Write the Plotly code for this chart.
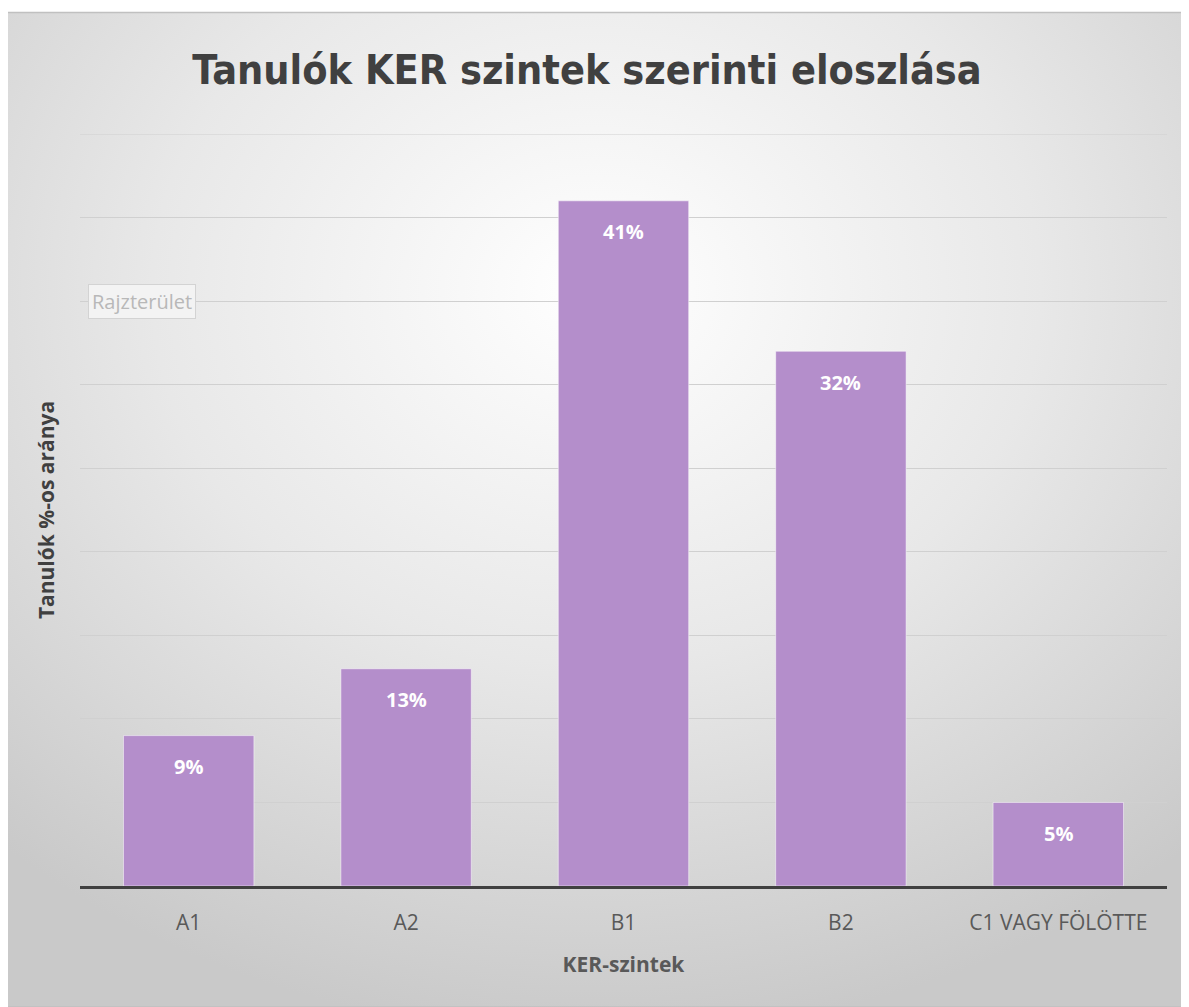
import plotly.graph_objects as go
import urllib.parse

categories = ["A1", "A2", "B1", "B2", "C1 VAGY FÖLÖTTE"]
values = [9, 13, 41, 32, 5]

title_text = "Tanulók KER szintek szerinti eloszlása"
x_title = "KER-szintek"
y_title = "Tanulók %-os aránya"

# page body has an 8px margin; coordinates below are reference pixels minus 8
OFF = 8
W, H = 1189 - OFF, 1007 - OFF
ML = 80 - OFF
MT = 134 - OFF
MR = W - (1167 - OFF)
MB = H - (886 - OFF)
pw = W - ML - MR
ph = H - MT - MB

FONT = "Open Sans, sans-serif"
TFONT = "DejaVu Sans Condensed, Open Sans, sans-serif"

svg = (
    "<svg xmlns='http://www.w3.org/2000/svg' width='1185' height='995' viewBox='0 0 1185 995' preserveAspectRatio='none'>"
    "<defs><radialGradient id='g' cx='50%' cy='28%' r='75%'>"
    "<stop offset='0' stop-color='#ffffff'/><stop offset='0.5' stop-color='#e8e8e8'/>"
    "<stop offset='1' stop-color='#c9c9c9'/></radialGradient></defs>"
    "<rect width='1185' height='995' fill='url(#g)'/></svg>"
)
src = "data:image/svg+xml;charset=utf-8," + urllib.parse.quote(svg)

def px2x(px):
    return (px - OFF - ML) / pw

def py2y(py):
    return (H - MB - (py - OFF)) / ph

fig = go.Figure()
fig.add_trace(go.Bar(
    x=categories, y=values,
    marker=dict(color="#b48ecb", line=dict(color="rgba(255,255,255,0.5)", width=1)),
    hoverinfo="skip",
))

annotations = [
    dict(x=c, y=v, xref="x", yref="y", text="<b>%d%%</b>" % v, showarrow=False,
         yanchor="middle", yshift=-31, font=dict(family=FONT, size=20, color="white"))
    for c, v in zip(categories, values)
]
annotations.append(dict(text="Rajzterület", xref="paper", yref="paper",
                        x=px2x(88), y=py2y(301), xanchor="left", yanchor="middle",
                        showarrow=False, font=dict(family=FONT, size=20, color="#b8b8b8"),
                        bgcolor="#f3f3f3", bordercolor="#d3d3d3", borderwidth=1, borderpad=3))

fig.update_layout(
    width=W, height=H,
    margin=dict(l=ML, r=MR, t=MT, b=MB),
    paper_bgcolor="white", plot_bgcolor="rgba(0,0,0,0)",
    showlegend=False, bargap=0.4,
    title=dict(text="<b>" + title_text + "</b>", x=(587 - OFF) / W, xanchor="center", xref="container",
               y=1 - (70 - OFF) / H, yanchor="middle",
               font=dict(family=TFONT, size=41, color="#404040")),
    xaxis=dict(showline=True, linecolor="#404040", linewidth=3, showgrid=False,
               ticks="", ticklabelstandoff=16,
               tickfont=dict(family=FONT, size=21, color="#595959"),
               title=dict(text="<b>" + x_title + "</b>", standoff=23,
                          font=dict(family=FONT, size=21, color="#595959"))),
    yaxis=dict(range=[0, 45], dtick=5, showticklabels=False, showgrid=True,
               gridcolor="#d0d0d0", gridwidth=1, zeroline=False, showline=False,
               title=dict(text="<b>" + y_title + "</b>", standoff=18,
                          font=dict(family=FONT, size=21, color="#404040"))),
    images=[dict(source=src, xref="paper", yref="paper",
                 x=px2x(4), y=py2y(12), sizex=px2x(1189) - px2x(4), sizey=py2y(12) - py2y(1007),
                 xanchor="left", yanchor="top", sizing="stretch", layer="below")],
    shapes=[
        dict(type="rect", xref="paper", yref="paper",
             x0=px2x(4.5), y0=py2y(1007), x1=px2x(1189), y1=py2y(12.5),
             line=dict(color="#c0c0c0", width=1.5), fillcolor="rgba(0,0,0,0)", layer="below"),
        dict(type="line", xref="paper", yref="y", x0=0, x1=1, y0=45, y1=45,
             line=dict(color="#d0d0d0", width=1), layer="below"),
    ],
    annotations=annotations,
)

fig.write_html("out.html")
